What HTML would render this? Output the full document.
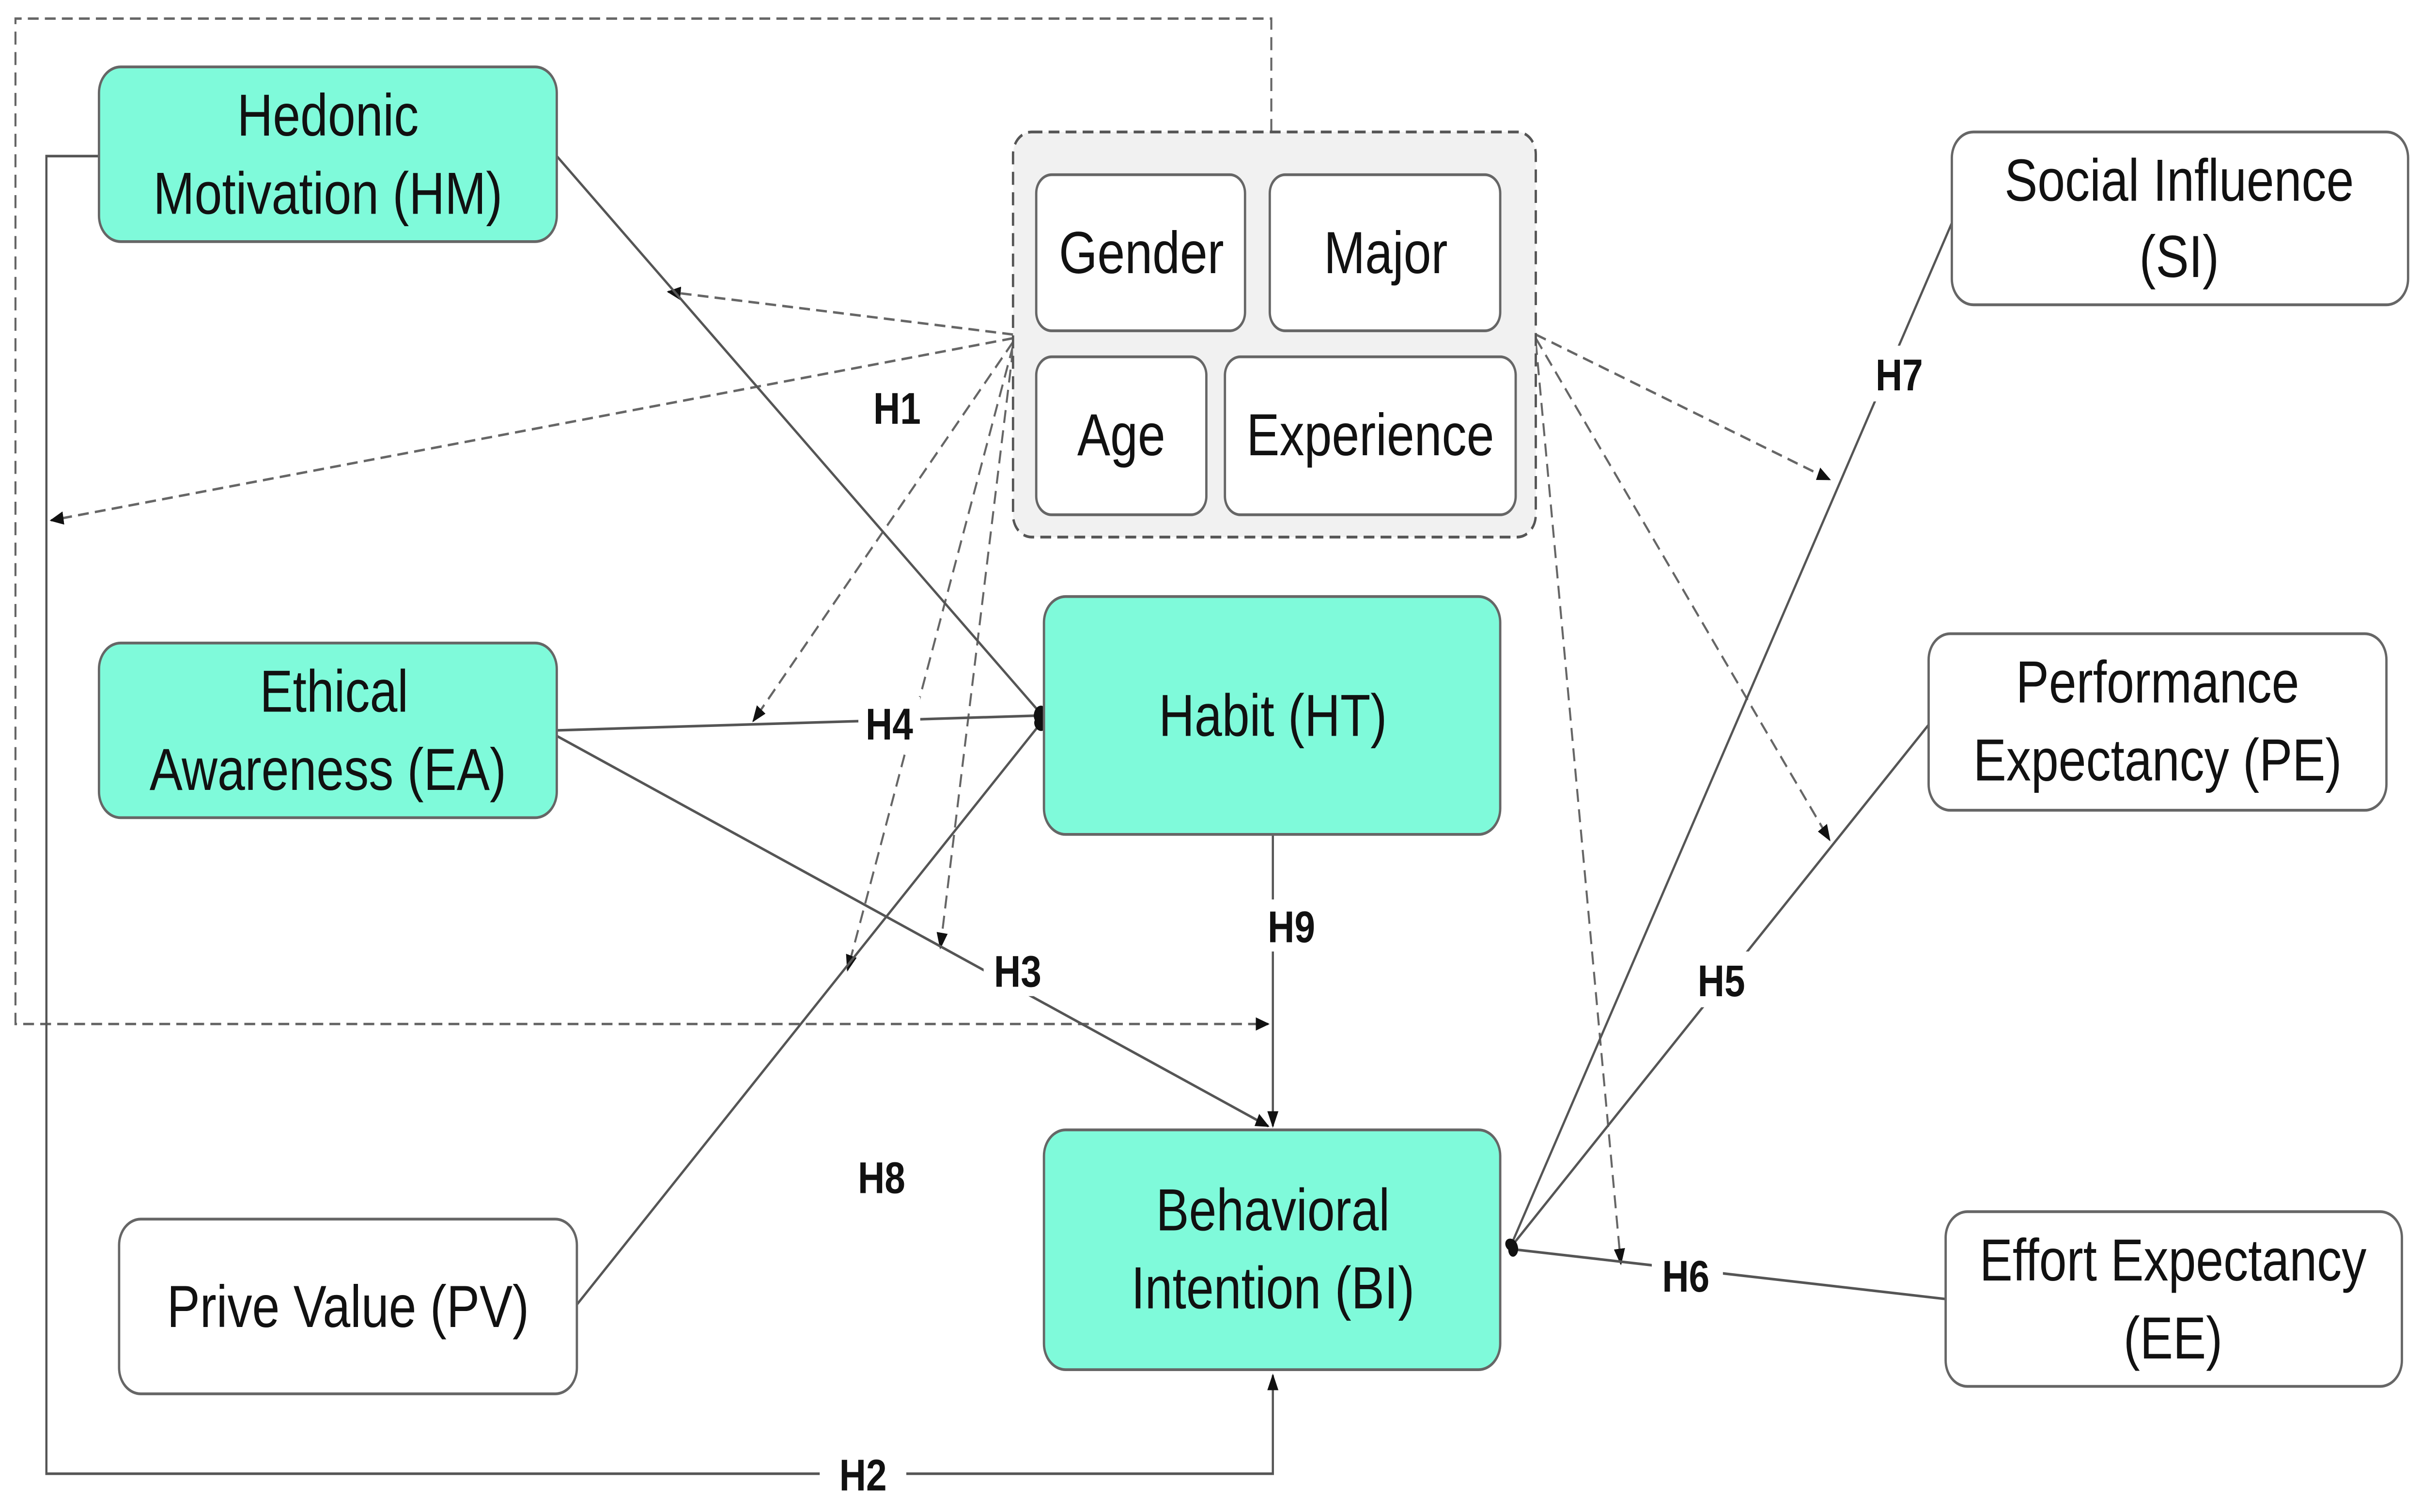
<!DOCTYPE html>
<html><head><meta charset="utf-8"><style>html,body{margin:0;padding:0;background:#fff;overflow:hidden;width:100vw;height:100vh}svg{display:block;width:100vw;height:100vh}</style></head>
<body>
<svg xmlns="http://www.w3.org/2000/svg" viewBox="0 0 1566 813.6" preserveAspectRatio="none" font-family="Liberation Sans, Arial, sans-serif">
<defs>
<marker id="a" viewBox="0 0 10 10" refX="9" refY="5" markerWidth="9" markerHeight="9" markerUnits="userSpaceOnUse" orient="auto"><path d="M0,1 L10,5 L0,9 Z" fill="#111"/></marker>
<marker id="o" viewBox="0 0 10 10" refX="9" refY="5" markerWidth="8" markerHeight="12" markerUnits="userSpaceOnUse" orient="auto"><ellipse cx="6" cy="5" rx="4" ry="5" fill="#111"/></marker>
</defs>
<g fill="none" stroke="#666" stroke-width="1.3" stroke-dasharray="7,4">
<path d="M822,71 L822,10 L10,10 L10,551 L820,551" marker-end="url(#a)"/>
<line x1="655" y1="180" x2="432" y2="157" marker-end="url(#a)"/>
<line x1="655" y1="182" x2="33" y2="280" marker-end="url(#a)"/>
<line x1="655" y1="184" x2="487" y2="388" marker-end="url(#a)"/>
<line x1="655" y1="186" x2="548" y2="522" marker-end="url(#a)"/>
<line x1="655" y1="188" x2="608" y2="510" marker-end="url(#a)"/>
<line x1="993" y1="180" x2="1183" y2="258" marker-end="url(#a)"/>
<line x1="993" y1="182" x2="1183" y2="452" marker-end="url(#a)"/>
<line x1="993" y1="184" x2="1048" y2="680" marker-end="url(#a)"/>
</g>
<g fill="none" stroke="#555" stroke-width="1.4">
<path d="M64,84 L30,84 L30,793 L823,793 L823,740" marker-end="url(#a)"/>
<line x1="360" y1="84" x2="674" y2="385" marker-end="url(#o)"/>
<line x1="360" y1="393" x2="674" y2="385" marker-end="url(#o)"/>
<line x1="360" y1="396" x2="820" y2="606" marker-end="url(#a)"/>
<line x1="373" y1="702" x2="674" y2="388" marker-end="url(#o)"/>
<line x1="823" y1="449" x2="823" y2="606" marker-end="url(#a)"/>
<line x1="1262" y1="120" x2="976" y2="672" marker-end="url(#o)"/>
<line x1="1247" y1="390" x2="976" y2="672" marker-end="url(#o)"/>
<line x1="1258" y1="699" x2="976" y2="672" marker-end="url(#o)"/>
</g>
<g fill="#fff">
<rect x="530" y="780" width="56" height="26"/>
<rect x="555" y="375" width="40" height="28"/>
<rect x="636" y="508" width="44" height="28"/>
<rect x="815" y="484" width="40" height="28"/>
<rect x="1208" y="186" width="40" height="30"/>
<rect x="1092" y="512" width="44" height="30"/>
<rect x="1068" y="672" width="46" height="28"/>
</g>
<rect x="655" y="71" width="338" height="218" rx="12" fill="#f1f1f1" stroke="#555" stroke-width="1.5" stroke-dasharray="7,4"/>
<g stroke="#666" stroke-width="1.5" fill="#fff">
<rect x="670" y="94" width="135" height="84" rx="10"/>
<rect x="821" y="94" width="149" height="84" rx="10"/>
<rect x="670" y="192" width="110" height="85" rx="10"/>
<rect x="792" y="192" width="188" height="85" rx="10"/>
<rect x="77" y="656" width="296" height="94" rx="14"/>
<rect x="1262" y="71" width="295" height="93" rx="14"/>
<rect x="1247" y="341" width="296" height="95" rx="14"/>
<rect x="1258" y="652" width="295" height="94" rx="14"/>
<g fill="#7ffada">
<rect x="64" y="36" width="296" height="94" rx="14"/>
<rect x="64" y="346" width="296" height="94" rx="14"/>
<rect x="675" y="321" width="295" height="128" rx="14"/>
<rect x="675" y="608" width="295" height="129" rx="14"/>
</g>
</g>
<g font-size="32" fill="#111" text-anchor="middle">
<text x="212" y="73">Hedonic</text><text x="212" y="115">Motivation (HM)</text>
<text x="216" y="383">Ethical</text><text x="212" y="425">Awareness (EA)</text>
<text x="225" y="714">Prive Value (PV)</text>
<text x="738" y="147">Gender</text><text x="896" y="147">Major</text>
<text x="725" y="245">Age</text><text x="886" y="245">Experience</text>
<text x="823" y="396">Habit (HT)</text>
<text x="823" y="662">Behavioral</text><text x="823" y="704">Intention (BI)</text>
<text x="1409" y="108">Social Influence</text><text x="1409" y="149">(SI)</text>
<text x="1395" y="378">Performance</text><text x="1395" y="420">Expectancy (PE)</text>
<text x="1405" y="689">Effort Expectancy</text><text x="1405" y="731">(EE)</text>
</g>
<g font-size="24" font-weight="bold" fill="#111" text-anchor="middle">
<text x="580" y="228">H1</text>
<text x="558" y="802">H2</text>
<text x="658" y="531">H3</text>
<text x="575" y="398">H4</text>
<text x="1113" y="536">H5</text>
<text x="1090" y="695">H6</text>
<text x="1228" y="210">H7</text>
<text x="570" y="642">H8</text>
<text x="835" y="507">H9</text>
</g>
</svg>
</body></html>
